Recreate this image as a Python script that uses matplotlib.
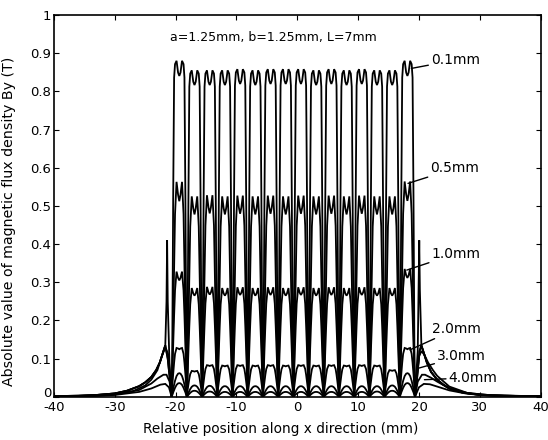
import matplotlib
matplotlib.use("Agg")
import matplotlib.pyplot as plt
from matplotlib.transforms import ScaledTranslation

plt.rcParams["font.family"] = ["DejaVu Sans"]
plt.rcParams["axes.unicode_minus"] = False

# ---- data -------------------------------------------------------------
gap_labels = ["0.1mm", "0.5mm", "1.0mm", "2.0mm", "3.0mm", "4.0mm"]

# centres of the 16 poles along x (mm)
pole_x = [-19.4, -16.9, -14.4, -11.9, -9.4, -6.9, -4.4, -1.9,
          0.6, 3.1, 5.6, 8.1, 10.6, 13.1, 15.6, 18.1]

# sampling offsets across one pole pitch (mm), zero crossing to zero crossing
pitch_dx = [-1.25, -1.15, -1.0, -0.85, -0.7, -0.45, -0.2, 0.0,
            0.2, 0.45, 0.7, 0.85, 1.0, 1.15, 1.25]

# relative |By| across one pitch
shape_01 = [0.0, 0.15, 0.6, 0.95, 0.99, 1.0, 0.965, 0.955, 0.965, 1.0, 0.99, 0.95, 0.6, 0.15, 0.0]
shape_05 = [0.0, 0.12, 0.35, 0.6, 0.85, 1.0, 0.94, 0.91, 0.94, 1.0, 0.85, 0.6, 0.35, 0.12, 0.0]
shape_10 = [0.0, 0.18, 0.42, 0.65, 0.85, 1.0, 0.95, 0.93, 0.95, 1.0, 0.85, 0.65, 0.42, 0.18, 0.0]
shape_20 = [0.0, 0.24, 0.48, 0.7, 0.88, 1.0, 0.99, 0.975, 0.99, 1.0, 0.88, 0.7, 0.48, 0.24, 0.0]
shape_30 = [0.0, 0.15, 0.35, 0.52, 0.68, 0.88, 0.98, 1.0, 0.98, 0.88, 0.68, 0.52, 0.35, 0.15, 0.0]
shape_40 = [0.0, 0.14, 0.33, 0.5, 0.66, 0.87, 0.98, 1.0, 0.98, 0.87, 0.66, 0.5, 0.33, 0.14, 0.0]

# peak |By| (T) over each pole
peak_01 = [0.88, 0.855, 0.855, 0.855, 0.858, 0.855, 0.858, 0.858,
           0.858, 0.855, 0.858, 0.855, 0.858, 0.855, 0.855, 0.88]
peak_05 = [0.563, 0.525, 0.528, 0.525, 0.527, 0.525, 0.527, 0.525,
           0.527, 0.525, 0.527, 0.525, 0.527, 0.525, 0.525, 0.564]
peak_10 = [0.328, 0.285, 0.288, 0.285, 0.287, 0.285, 0.287, 0.285,
           0.287, 0.285, 0.287, 0.285, 0.287, 0.285, 0.285, 0.335]
peak_20 = [0.128, 0.068, 0.083, 0.082, 0.083, 0.082, 0.083, 0.082,
           0.083, 0.082, 0.083, 0.082, 0.083, 0.082, 0.07, 0.128]
peak_30 = [0.062, 0.03, 0.029, 0.028, 0.028, 0.028, 0.028, 0.028,
           0.028, 0.028, 0.028, 0.028, 0.028, 0.028, 0.03, 0.062]
peak_40 = [0.036, 0.016, 0.014, 0.013, 0.013, 0.013, 0.013, 0.013,
           0.013, 0.013, 0.013, 0.013, 0.013, 0.014, 0.016, 0.036]

# field outside the array: left end (x, |By|)
left_x_near = [-40, -36, -33, -30, -28, -26, -25, -24, -23.2, -22.6, -22.1, -21.7, -21.3, -20.9, -20.65]
left_y_near = [0.002, 0.003, 0.005, 0.009, 0.016, 0.028, 0.038, 0.052, 0.07, 0.09, 0.115, 0.135, 0.1, 0.04, 0.0]
left_x_10 = [-40, -36, -33, -30, -28, -26, -25, -24, -23.2, -22.6, -22.1, -21.7, -21.5, -21.4, -21.3, -21.0, -20.65]
left_y_10 = [0.002, 0.003, 0.005, 0.009, 0.016, 0.028, 0.038, 0.052, 0.07, 0.09, 0.115, 0.135, 0.25, 0.41, 0.25, 0.08, 0.0]
left_x_20 = [-40, -34, -30, -27, -25, -24, -23, -22.4, -21.9, -21.6, -21.2, -20.9, -20.65]
left_y_20 = [0.001, 0.003, 0.007, 0.015, 0.03, 0.045, 0.07, 0.1, 0.122, 0.127, 0.11, 0.06, 0.0]
left_x_30 = [-40, -34, -30, -26, -24, -23, -22, -21.5, -21.0, -20.65]
left_y_30 = [0.001, 0.002, 0.006, 0.018, 0.035, 0.048, 0.058, 0.058, 0.04, 0.0]
left_x_40 = [-40, -34, -30, -26, -24, -22.5, -21.7, -21.1, -20.65]
left_y_40 = [0.001, 0.002, 0.005, 0.013, 0.022, 0.032, 0.034, 0.025, 0.0]

# field outside the array: right end (x, |By|)
right_x_near = [19.35, 19.7, 20.1, 20.4, 20.8, 21.3, 22.0, 23.0, 24.0, 25.0, 27.0, 30.0, 34.0, 40.0]
right_y_near = [0.0, 0.05, 0.12, 0.135, 0.115, 0.09, 0.065, 0.045, 0.032, 0.022, 0.012, 0.005, 0.003, 0.002]
right_x_10 = [19.35, 19.8, 19.95, 20.05, 20.15, 20.4, 20.8, 21.3, 22.0, 23.0, 24.0, 25.0, 27.0, 30.0, 34.0, 40.0]
right_y_10 = [0.0, 0.12, 0.3, 0.41, 0.28, 0.135, 0.115, 0.09, 0.065, 0.045, 0.032, 0.022, 0.012, 0.005, 0.003, 0.002]
right_x_20 = [19.35, 19.7, 20.0, 20.4, 20.9, 21.5, 22.3, 23.0, 25.0, 28.0, 32.0, 40.0]
right_y_20 = [0.0, 0.06, 0.105, 0.12, 0.11, 0.09, 0.07, 0.055, 0.027, 0.01, 0.004, 0.001]
right_x_30 = [19.35, 19.8, 20.5, 21.0, 22.0, 23.0, 25.0, 28.0, 32.0, 40.0]
right_y_30 = [0.0, 0.04, 0.058, 0.058, 0.05, 0.04, 0.022, 0.01, 0.004, 0.001]
right_x_40 = [19.35, 20.0, 20.8, 21.8, 23.0, 25.0, 28.0, 32.0, 40.0]
right_y_40 = [0.0, 0.025, 0.034, 0.033, 0.027, 0.017, 0.008, 0.003, 0.001]

# label placement for each curve: leader start (x, y) and text anchor (x, y)
label_tip_x = [18.75, 18.2, 18.0, 18.5, 19.9, 20.9]
label_tip_y = [0.86, 0.559, 0.332, 0.123, 0.075, 0.045]
label_txt_x = [22.0, 21.9, 22.1, 22.1, 23.0, 24.9]
label_txt_y = [0.882, 0.598, 0.375, 0.178, 0.107, 0.05]

x_ticks = [-40, -30, -20, -10, 0, 10, 20, 30, 40]
y_ticks = [0, 0.1, 0.2, 0.3, 0.4, 0.5, 0.6, 0.7, 0.8, 0.9, 1]
y_tick_labels = ["0", "0.1", "0.2", "0.3", "0.4", "0.5", "0.6", "0.7", "0.8", "0.9", "1"]


def assemble(lx, ly, peaks, shape, rx, ry):
    xs, ys = list(lx), list(ly)
    for c, h in zip(pole_x, peaks):
        for d, r in zip(pitch_dx, shape):
            xs.append(c + d)
            ys.append(h * r)
    xs += list(rx)
    ys += list(ry)
    return xs, ys


curves = [
    assemble(left_x_near, left_y_near, peak_01, shape_01, right_x_near, right_y_near),
    assemble(left_x_near, left_y_near, peak_05, shape_05, right_x_near, right_y_near),
    assemble(left_x_10, left_y_10, peak_10, shape_10, right_x_10, right_y_10),
    assemble(left_x_20, left_y_20, peak_20, shape_20, right_x_20, right_y_20),
    assemble(left_x_30, left_y_30, peak_30, shape_30, right_x_30, right_y_30),
    assemble(left_x_40, left_y_40, peak_40, shape_40, right_x_40, right_y_40),
]

# ---- figure -----------------------------------------------------------
fig = plt.figure(figsize=(5.48, 4.40), dpi=100)
ax = fig.add_axes([0.0985, 0.098, 0.888, 0.868])

for xs, ys in curves:
    ax.plot(xs, ys, color="black", lw=1.3, solid_joinstyle="miter")

ax.set_xlim(-40, 40)
ax.set_ylim(0, 1)
ax.set_xticks(x_ticks)
ax.set_yticks(y_ticks)
ax.set_yticklabels(y_tick_labels)
ax.tick_params(direction="in", top=True, right=True, length=3.5, width=0.8,
               labelsize=9.5)
ax.tick_params(axis="x", pad=3)
ax.tick_params(axis="y", pad=2)
for sp in ax.spines.values():
    sp.set_linewidth(1.2)

# lift the "0" on the y axis so it clears the "-40" below it
zero_lbl = ax.get_yticklabels()[0]
zero_lbl.set_transform(zero_lbl.get_transform() + ScaledTranslation(0, 5 / 100, fig.dpi_scale_trans))

ax.set_xlabel("Relative position along x direction (mm)", fontsize=9.8)
ax.xaxis.set_label_coords(0.465, -0.066)
ax.set_ylabel("Absolute value of magnetic flux density By (T)", fontsize=10.2)
ax.yaxis.set_label_coords(-0.079, 0.46)

ax.text(-21.0, 0.942, "a=1.25mm, b=1.25mm, L=7mm", fontsize=9.0, va="center", ha="left")

for lab, tx, ty, lx, ly in zip(gap_labels, label_tip_x, label_tip_y, label_txt_x, label_txt_y):
    ax.annotate(lab, xy=(tx, ty), xytext=(lx, ly), fontsize=10, va="center", ha="left",
                arrowprops=dict(arrowstyle="-", color="black", lw=1.0,
                                shrinkA=0, shrinkB=0))

fig.savefig("out.png", dpi=100)
